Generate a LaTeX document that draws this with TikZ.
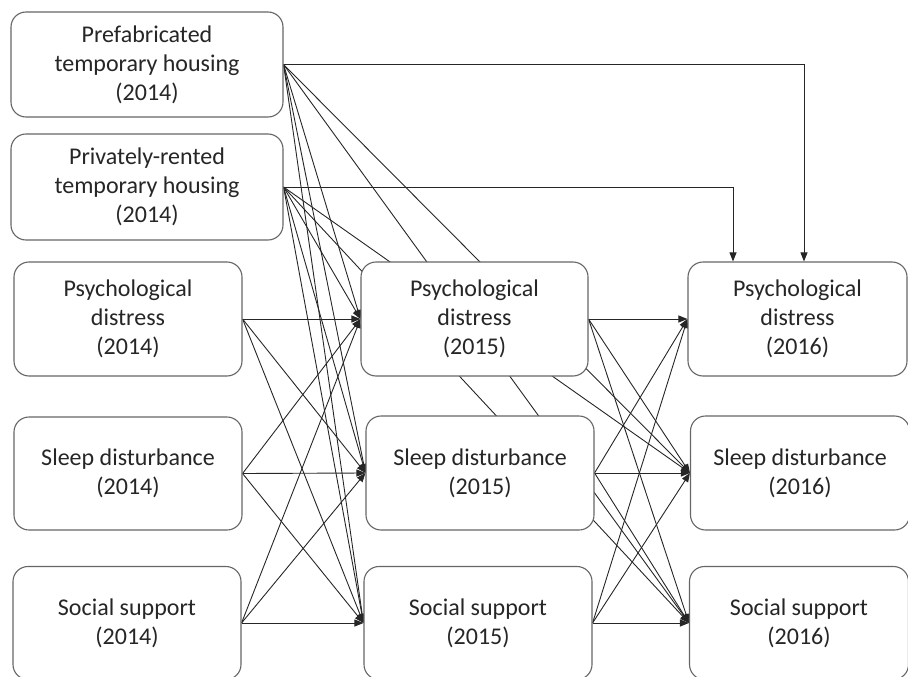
\documentclass[tikz,border=0pt]{standalone}
\usepackage{fontspec}
\setmainfont{Carlito}
\usetikzlibrary{arrows.meta,backgrounds}
\tikzset{
  var/.style={draw=black!60,line width=1.1pt,rounded corners=15pt,fill=white,align=center,
    text=black!85,font=\fontsize{24}{29}\selectfont,inner sep=0pt},
  link/.style={draw=black!85,line width=0.9pt,-{Triangle[length=9pt,width=7pt]}}
}
\begin{document}
\begin{tikzpicture}[x=1pt,y=-1pt]
  \useasboundingbox (0,0) rectangle (908,677);
  \clip (0,0) rectangle (908,677);
  % housing (2014)
  \node[var,minimum width=272pt,minimum height=105pt] (prefab) at (147,64.5) {Prefabricated\\temporary housing\\(2014)};
  \node[var,minimum width=272pt,minimum height=106pt] (priv) at (147,187) {Privately-rented\\temporary housing\\(2014)};
  % waves
  \node[var,minimum width=228pt,minimum height=114pt] (psy14) at (128,319) {Psychological\\distress\\(2014)};
  \node[var,minimum width=228pt,minimum height=113pt] (slp14) at (128,473.5) {Sleep disturbance\\(2014)};
  \node[var,minimum width=228pt,minimum height=113pt] (soc14) at (127,623) {Social support\\(2014)};
  \node[var,minimum width=227pt,minimum height=114pt] (psy15) at (474.5,319) {Psychological\\distress\\(2015)};
  \node[var,minimum width=228pt,minimum height=114pt] (slp15) at (480,473) {Sleep disturbance\\(2015)};
  \node[var,minimum width=228pt,minimum height=113pt] (soc15) at (478,623) {Social support\\(2015)};
  \node[var,minimum width=219pt,minimum height=114pt] (psy16) at (797.5,319) {Psychological\\distress\\(2016)};
  \node[var,minimum width=219pt,minimum height=114pt] (slp16) at (800,473) {Sleep disturbance\\(2016)};
  \node[var,minimum width=219pt,minimum height=113pt] (soc16) at (799,623) {Social support\\(2016)};
  \begin{scope}[on background layer]
    \foreach \a in {psy14,slp14,soc14} \foreach \b in {psy15,slp15,soc15} \draw[link] (\a.east) -- (\b.west);
    \foreach \a in {psy15,slp15,soc15} \foreach \b in {psy16,slp16,soc16} \draw[link] (\a.east) -- (\b.west);
    \foreach \a in {prefab,priv} \foreach \b in {psy15,slp15,soc15,slp16,soc16} \draw[link] (\a.east) -- (\b.west);
    \draw[link] (prefab.east) -| ([xshift=6.5pt]psy16.north);
    \draw[link] (priv.east) -| ([xshift=-64.5pt]psy16.north);
  \end{scope}
\end{tikzpicture}
\end{document}
